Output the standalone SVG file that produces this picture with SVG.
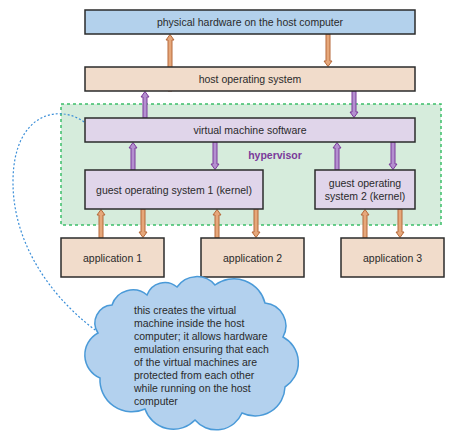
<svg xmlns="http://www.w3.org/2000/svg" width="453" height="433" viewBox="0 0 453 433">
<style>
.t{font-family:"Liberation Sans",Arial,sans-serif;font-size:10.5px;fill:#2a2a2a;text-anchor:middle}
.box{stroke:#2b2b2b;stroke-width:1.5}
.hw{fill:#b3d1ec}
.os{fill:#f1dccb}
.vm{fill:#e0d5ea}
.ao{fill:#e6a77a;stroke:#b5693a;stroke-width:1}
.ap{fill:#b48fd0;stroke:#7a3a9a;stroke-width:1}
.ct{font-family:"Liberation Sans",Arial,sans-serif;font-size:10.5px;fill:#2a2a2a}
</style>
<rect width="453" height="433" fill="#ffffff"/>
<g id="hypervisor">
<rect x="61" y="104" width="380" height="121" fill="#d6ecdc" stroke="#3dbf6a" stroke-width="1.5" stroke-dasharray="3 3"/>
<text x="275" y="159" style="font-family:'Liberation Sans',Arial,sans-serif;font-size:10.5px;font-weight:bold;fill:#7a3a9a" text-anchor="middle">hypervisor</text>
</g>
<g id="connectors">
<path d="M84,122 C60,104 14,112 13,180 C12,250 60,305 98,332" fill="none" stroke="#3a8ed8" stroke-width="1.2" stroke-dasharray="2 2"/>
<path class="ao" d="M168,91 V40 H166 L170,34.5 L174,40 H172 V91 Z"/>
<path class="ao" d="M326,34 V61 H324 L328,66.5 L332,61 H330 V34 Z"/>
<path class="ap" d="M143,118 V97 H141 L145,91.5 L149,97 H147 V118 Z"/>
<path class="ap" d="M352,91 V112 H350 L354,117.5 L358,112 H356 V91 Z"/>
<path class="ap" d="M131,170 V148 H129 L133,142.5 L137,148 H135 V170 Z"/>
<path class="ap" d="M213,142 V164 H211 L215,169.5 L219,164 H217 V142 Z"/>
<path class="ap" d="M335,170 V148 H333 L337,142.5 L341,148 H339 V170 Z"/>
<path class="ap" d="M391,142 V164 H389 L393,169.5 L397,164 H395 V142 Z"/>
<path class="ao" d="M99,238 V215 H97 L101,209.5 L105,215 H103 V238 Z"/>
<path class="ao" d="M141,209 V232 H139 L143,237.5 L147,232 H145 V209 Z"/>
<path class="ao" d="M215,238 V215 H213 L217,209.5 L221,215 H219 V238 Z"/>
<path class="ao" d="M254,209 V232 H252 L256,237.5 L260,232 H258 V209 Z"/>
<path class="ao" d="M363,238 V215 H361 L365,209.5 L369,215 H367 V238 Z"/>
<path class="ao" d="M398,209 V232 H396 L400,237.5 L404,232 H402 V209 Z"/>
</g>
<g id="hardware">
<rect class="box hw" x="85" y="10" width="330" height="24"/>
<text class="t" x="250" y="26">physical hardware on the host computer</text>
</g>
<g id="host-os">
<rect class="box os" x="85" y="67" width="330" height="24"/>
<text class="t" x="250" y="83">host operating system</text>
</g>
<g id="vm-software">
<rect class="box vm" x="85" y="118" width="330" height="24"/>
<text class="t" x="250" y="134">virtual machine software</text>
</g>
<g id="guest-os-1">
<rect class="box vm" x="85" y="170" width="178" height="39"/>
<text class="t" x="174" y="193.5">guest operating system 1 (kernel)</text>
</g>
<g id="guest-os-2">
<rect class="box vm" x="315" y="170" width="100" height="39"/>
<text class="t" x="365" y="187">guest operating</text>
<text class="t" x="365" y="200">system 2 (kernel)</text>
</g>
<g id="app-1">
<rect class="box os" x="61" y="238" width="103" height="39"/>
<text class="t" x="112.5" y="261.5">application 1</text>
</g>
<g id="app-2">
<rect class="box os" x="201" y="238" width="103" height="39"/>
<text class="t" x="252.5" y="261.5">application 2</text>
</g>
<g id="app-3">
<rect class="box os" x="341" y="238" width="103" height="39"/>
<text class="t" x="392.5" y="261.5">application 3</text>
</g>
<g id="cloud">
<path d="M98,333 A18,18 0 0 1 112,305 A22,22 0 0 1 147,295 A19,19 0 0 1 177,287 A24,24 0 0 1 215,285 A32,32 0 0 1 265,303 A23,23 0 0 1 283,337 A29,29 0 0 1 285,387 A30,30 0 0 1 242,413 A28,28 0 0 1 195,420 A30,30 0 0 1 145,409 A32,32 0 0 1 100,378 A25,25 0 0 1 98,333 Z" fill="#b3d1ee" stroke="#4a9ad8" stroke-width="1.5"/>
<text class="ct" x="134" y="314">this creates the virtual</text>
<text class="ct" x="134" y="327">machine inside the host</text>
<text class="ct" x="134" y="340">computer; it allows hardware</text>
<text class="ct" x="134" y="353">emulation ensuring that each</text>
<text class="ct" x="134" y="366">of the virtual machines are</text>
<text class="ct" x="134" y="379">protected from each other</text>
<text class="ct" x="134" y="392">while running on the host</text>
<text class="ct" x="134" y="405">computer</text>
</g>
</svg>
